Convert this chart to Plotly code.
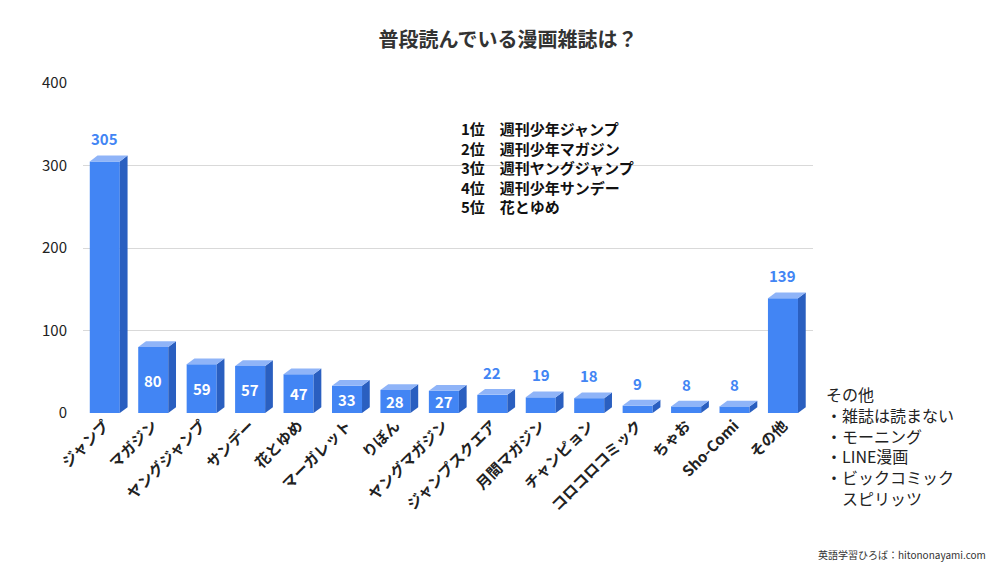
import plotly.graph_objects as go

magazines = ["ジャンプ", "マガジン", "ヤングジャンプ", "サンデー", "花とゆめ", "マーガレット", "りぼん",
             "ヤングマガジン", "ジャンプスクエア", "月間マガジン", "チャンピョン", "コロコロコミック",
             "ちゃお", "Sho-Comi", "その他"]
counts = [305, 80, 59, 57, 47, 33, 28, 27, 22, 19, 18, 9, 8, 8, 139]
ranking = ["1位　週刊少年ジャンプ", "2位　週刊少年マガジン", "3位　週刊ヤングジャンプ",
           "4位　週刊少年サンデー", "5位　花とゆめ"]
others = ["その他", "・雑誌は読まない", "・モーニング", "・LINE漫画", "・ビックコミック", "　スピリッツ"]

BLUE = "#4285f4"
SIDE = "#2a5fc0"
TOP = "#8fb4f8"
W, DX, DY = 0.62, 0.16, 7

xs = list(range(len(counts)))
fig = go.Figure()
fig.add_trace(go.Bar(x=xs, y=counts, width=W, marker_color=BLUE, marker_line_width=0, hoverinfo="skip"))

shapes = []
for x, v in zip(xs, counts):
    r = x + W / 2
    l = x - W / 2
    shapes.append(dict(type="path", xref="x", yref="y", line_width=0, fillcolor=SIDE,
                       path=f"M{r},0 L{r + DX},{DY} L{r + DX},{v + DY} L{r},{v} Z"))
    shapes.append(dict(type="path", xref="x", yref="y", line_width=0, fillcolor=TOP,
                       path=f"M{l},{v} L{l + DX},{v + DY} L{r + DX},{v + DY} L{r},{v} Z"))

for x, v in zip(xs, counts):
    inside = 25 <= v <= 100
    fig.add_annotation(x=x, y=v / 2 if inside else v + 12, xref="x", yref="y",
                       text=f"<b>{v}</b>", showarrow=False, yanchor="middle" if inside else "bottom",
                       font=dict(size=15, color="white" if inside else BLUE))
fig.add_annotation(x=0.515, y=0.9, xref="paper", yref="paper", xanchor="left", yanchor="top",
                   text="<b>" + "<br>".join(ranking) + "</b>", showarrow=False, align="left",
                   font=dict(size=15, color="#111"))
fig.add_annotation(x=1.015, y=0.1, xref="paper", yref="paper", xanchor="left", yanchor="top",
                   text="<br>".join(others), showarrow=False, align="left",
                   font=dict(size=16, color="#222"))
fig.add_annotation(x=1.24, y=-0.4, xref="paper", yref="paper", xanchor="right", yanchor="top",
                   text="英語学習ひろば：hitononayami.com", showarrow=False, font=dict(size=10, color="#333"))

fig.update_layout(
    title=dict(text="<b>普段読んでいる漫画雑誌は？</b>", x=0.5, y=0.955, font=dict(size=20, color="#333")),
    width=1000, height=563, margin=dict(l=75, r=195, t=75, b=158),
    paper_bgcolor="white", plot_bgcolor="white", showlegend=False,
    font=dict(family="Noto Sans CJK JP"),
    xaxis=dict(range=[-0.45, 14.62], tickvals=xs, ticktext=[f"<b>{m}</b>" for m in magazines],
               tickangle=-45, tickfont=dict(size=15, color="#222"), showgrid=False, zeroline=False,
               automargin=False),
    yaxis=dict(range=[0, 400], tickvals=[0, 100, 200, 300, 400], tickfont=dict(size=15, color="#222"),
               tickprefix="<b>", ticksuffix="</b>", gridcolor="#d9d9d9", zeroline=False,
               ticklabelstandoff=15, automargin=False),
    shapes=shapes,
)
fig.write_html("out.html")
